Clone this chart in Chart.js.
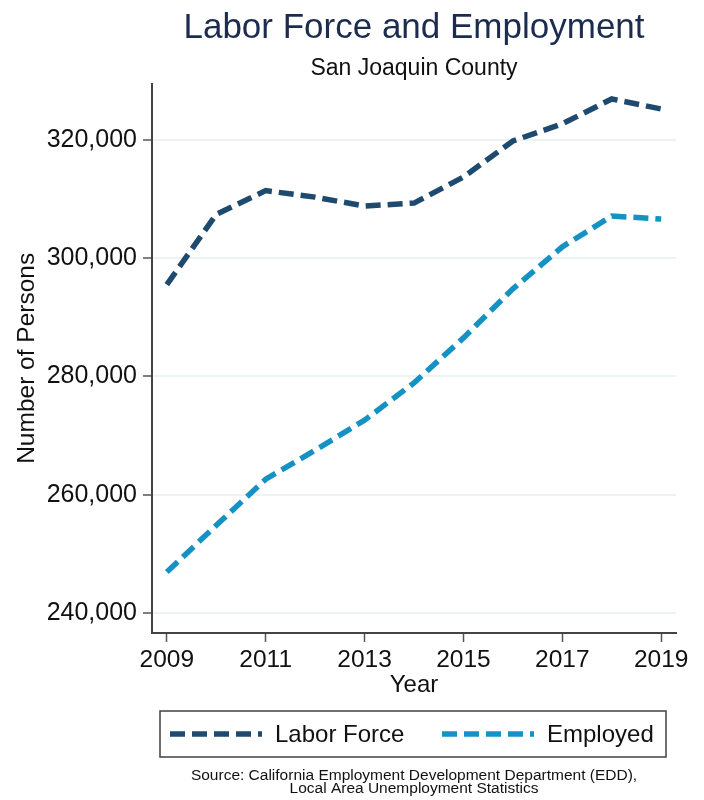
<!DOCTYPE html>
<html>
<head>
<meta charset="utf-8">
<script src="https://cdn.jsdelivr.net/npm/chart.js@4.4.1/dist/chart.umd.min.js"></script>
<style>
html,body{margin:0;padding:0;background:#ffffff;}
canvas{display:block;}
</style>
</head>
<body>
<canvas id="c" width="704" height="800"></canvas>
<script>
// ---- data ----
const years = [2009, 2010, 2011, 2012, 2013, 2014, 2015, 2016, 2017, 2018, 2019];
const laborForce = [295500, 307400, 311400, 310300, 308800, 309300, 313700, 319800, 322700, 326900, 325200];
const employed = [246900, 254800, 262600, 267500, 272600, 278900, 286500, 294800, 301900, 307100, 306600];
const xTickLabels = [2009, 2011, 2013, 2015, 2017, 2019];
const yTickValues = [240000, 260000, 280000, 300000, 320000];
const seriesNames = ['Labor Force', 'Employed'];
const titleText = 'Labor Force and Employment';
const subtitleText = 'San Joaquin County';
const sourceLines = ['Source: California Employment Development Department (EDD),', 'Local Area Unemployment Statistics'];

const FONT = "'Liberation Sans', Arial, Helvetica, sans-serif";
const colLF = '#1f4a6f';
const colEmp = '#1592c4';
const DASH = [15, 7];

const toPts = (vals) => years.map((y, i) => ({x: y, y: vals[i]}));

const bottomDecor = {
  id: 'bottomDecor',
  afterDraw(chart) {
    const ctx = chart.ctx;
    ctx.save();
    // legend box
    const bx = 160, by = 711, bw = 506, bh = 46;
    ctx.strokeStyle = '#404040';
    ctx.lineWidth = 1.5;
    ctx.setLineDash([]);
    ctx.strokeRect(bx, by, bw, bh);
    const items = [
      {x0: 170, x1: 262, tx: 275},
      {x0: 442, x1: 534, tx: 547}
    ];
    const cy = by + bh / 2;
    chart.data.datasets.forEach((ds, i) => {
      const it = items[i];
      ctx.save();
      ctx.strokeStyle = ds.borderColor;
      ctx.lineWidth = ds.borderWidth;
      ctx.setLineDash(ds.borderDash);
      ctx.lineCap = 'butt';
      ctx.beginPath();
      ctx.moveTo(it.x0, cy);
      ctx.lineTo(it.x1, cy);
      ctx.stroke();
      ctx.restore();
      ctx.fillStyle = '#111';
      ctx.font = '24px ' + FONT;
      ctx.textAlign = 'left';
      ctx.textBaseline = 'middle';
      ctx.fillText(ds.label, it.tx, cy + 1);
    });
    // source
    ctx.fillStyle = '#111';
    ctx.font = '15.5px ' + FONT;
    ctx.textAlign = 'center';
    ctx.textBaseline = 'middle';
    ctx.fillText(sourceLines[0], 414, 776);
    ctx.fillText(sourceLines[1], 414, 789);
    ctx.restore();
  }
};

new Chart(document.getElementById('c'), {
  type: 'line',
  data: {
    datasets: [
      {label: seriesNames[0], data: toPts(laborForce), borderColor: colLF, backgroundColor: colLF,
       borderWidth: 5.5, borderDash: DASH, pointRadius: 0, tension: 0, fill: false},
      {label: seriesNames[1], data: toPts(employed), borderColor: colEmp, backgroundColor: colEmp,
       borderWidth: 5.5, borderDash: DASH, pointRadius: 0, tension: 0, fill: false}
    ]
  },
  options: {
    responsive: false,
    devicePixelRatio: 1,
    animation: false,
    layout: {padding: {left: 0, right: 28, top: 0, bottom: 100}},
    plugins: {
      legend: {display: false},
      tooltip: {enabled: false},
      title: {display: true, text: titleText, fullSize: false, color: '#1c2c4e',
              font: {family: FONT, size: 35, weight: 'normal'}, padding: {top: 7, bottom: 0}},
      subtitle: {display: true, text: subtitleText, fullSize: false, color: '#111',
              font: {family: FONT, size: 23, weight: 'normal'}, padding: {top: 6, bottom: 1}}
    },
    scales: {
      x: {
        type: 'linear',
        min: 2008.7, max: 2019.3,
        afterBuildTicks: (s) => { s.ticks = xTickLabels.map(v => ({value: v})); },
        afterFit: (s) => { s.height = 67; },
        ticks: {color: '#111', font: {family: FONT, size: 24.5}, padding: 4, maxRotation: 0,
                autoSkip: false, callback: (v) => String(v)},
        grid: {drawOnChartArea: false, drawTicks: true, tickLength: 9, tickColor: '#555', tickWidth: 1.5},
        border: {display: true, color: '#444', width: 2},
        title: {display: true, text: 'Year', color: '#111', font: {family: FONT, size: 24}, padding: {top: 0, bottom: 0}}
      },
      y: {
        type: 'linear',
        min: 236600, max: 329500,
        afterBuildTicks: (s) => { s.ticks = yTickValues.map(v => ({value: v})); },
        afterFit: (s) => { s.width = 152; },
        ticks: {color: '#111', font: {family: FONT, size: 25}, padding: 6,
                callback: (v) => v.toLocaleString('en-US')},
        grid: {color: '#edf3f3', lineWidth: 2, drawTicks: true, tickLength: 9, tickColor: '#555', tickWidth: 1.5},
        border: {display: true, color: '#444', width: 2},
        title: {display: true, text: 'Number of Persons', color: '#111', font: {family: FONT, size: 24.5}, padding: {top: 13, bottom: 0}}
      }
    }
  },
  plugins: [bottomDecor]
});
</script>
</body>
</html>
